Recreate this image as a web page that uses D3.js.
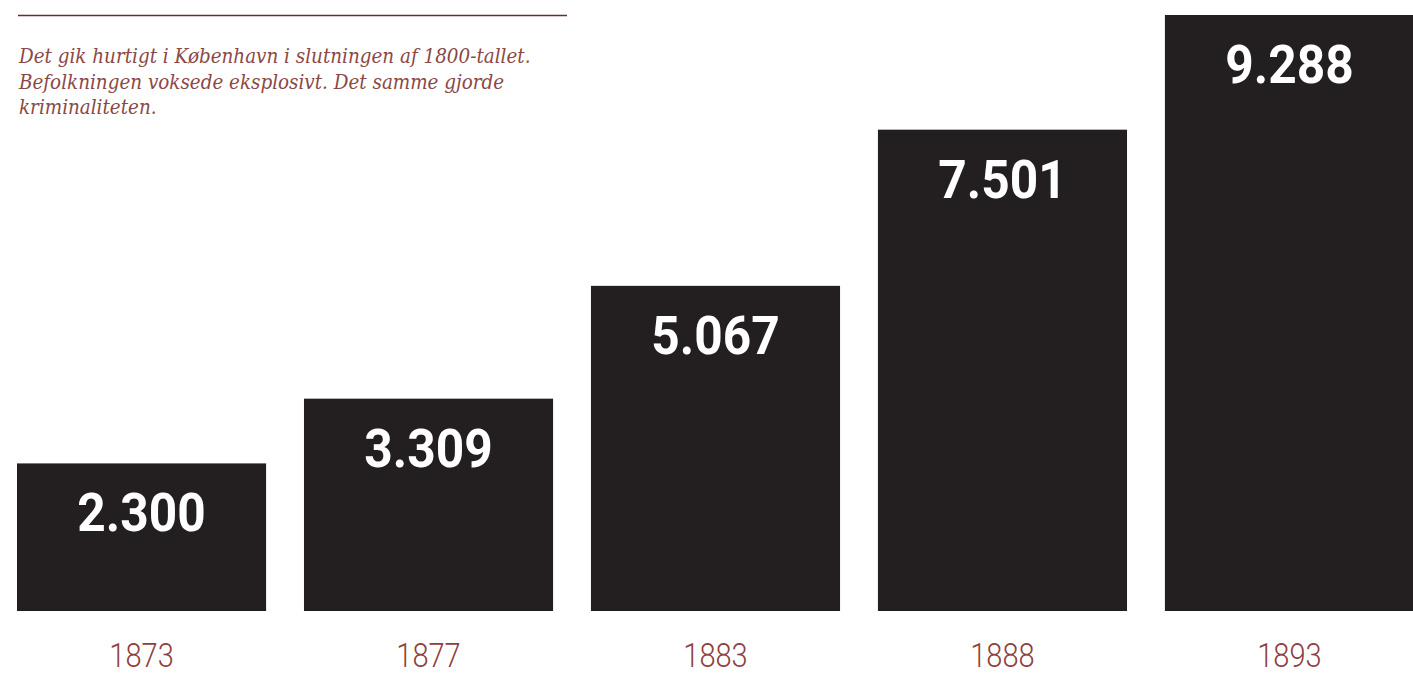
<!DOCTYPE html>
<html>
<head>
<meta charset="utf-8">
<script src="https://cdn.jsdelivr.net/npm/d3@7"></script>
<style>
  body { margin: 0; background: #fff; }
</style>
</head>
<body>
<div id="chart"></div>
<script>
// Values
const years = ["1873", "1877", "1883", "1888", "1893"];
const cases = [2300, 3309, 5067, 7501, 9288];
const introLines = [
    "Det gik hurtigt i København i slutningen af 1800-tallet.",
    "Befolkningen voksede eksplosivt. Det samme gjorde",
    "kriminaliteten."
];

const width = 1413;
const height = 686;
const barColor = "#231f20";
const textRed = "#8e3f3d";

const fmt = d3.formatLocale({ decimal: ",", thousands: ".", grouping: [3], currency: ["", " kr."] }).format(",");

const svg = d3.select("#chart")
    .append("svg")
    .attr("width", width)
    .attr("height", height);

const x = d3.scaleBand()
    .domain(years)
    .range([17, 1414])
    .paddingInner(0.132)
    .paddingOuter(0);

const y = d3.scaleLinear()
    .domain([0, 9288])
    .range([611, 15]);

// rule and intro text top left
svg.append("line")
    .attr("x1", 18).attr("x2", 567)
    .attr("y1", 15.5).attr("y2", 15.5)
    .attr("stroke", "#6e2b2a")
    .attr("stroke-width", 1.3);

svg.append("g")
    .selectAll("text")
    .data(introLines)
    .join("text")
    .attr("x", 19)
    .attr("y", (d, i) => 63 + i * 25.5)
    .text(d => d)
    .style("font-family", "'DejaVu Serif Condensed', 'DejaVu Serif', serif")
    .style("font-style", "italic")
    .style("font-size", "20.4px")
    .attr("fill", "#8a4846");

const bars = svg.append("g")
    .selectAll("g")
    .data(years.map((yr, i) => ({ year: yr, value: cases[i] })))
    .join("g");

bars.append("rect")
    .attr("x", d => x(d.year))
    .attr("y", d => y(d.value))
    .attr("width", x.bandwidth())
    .attr("height", d => y(0) - y(d.value))
    .attr("fill", barColor);

bars.append("text")
    .attr("transform", d => `translate(${x(d.year) + x.bandwidth() / 2},${y(d.value) + 68}) scale(0.92,1)`)
    .attr("text-anchor", "middle")
    .text(d => fmt(d.value))
    .style("font-family", "Roboto, sans-serif")
    .style("font-weight", "bold")
    .style("font-size", "54px")
    .attr("fill", "#fff");

// year labels under the bars
svg.append("g")
    .selectAll("text")
    .data(years)
    .join("text")
    .attr("transform", d => `translate(${x(d) + x.bandwidth() / 2},667) scale(0.88,1)`)
    .attr("text-anchor", "middle")
    .text(d => d)
    .style("font-family", "Roboto, sans-serif")
    .style("font-weight", "300")
    .style("font-size", "33px")
    .attr("fill", textRed);
</script>
</body>
</html>
